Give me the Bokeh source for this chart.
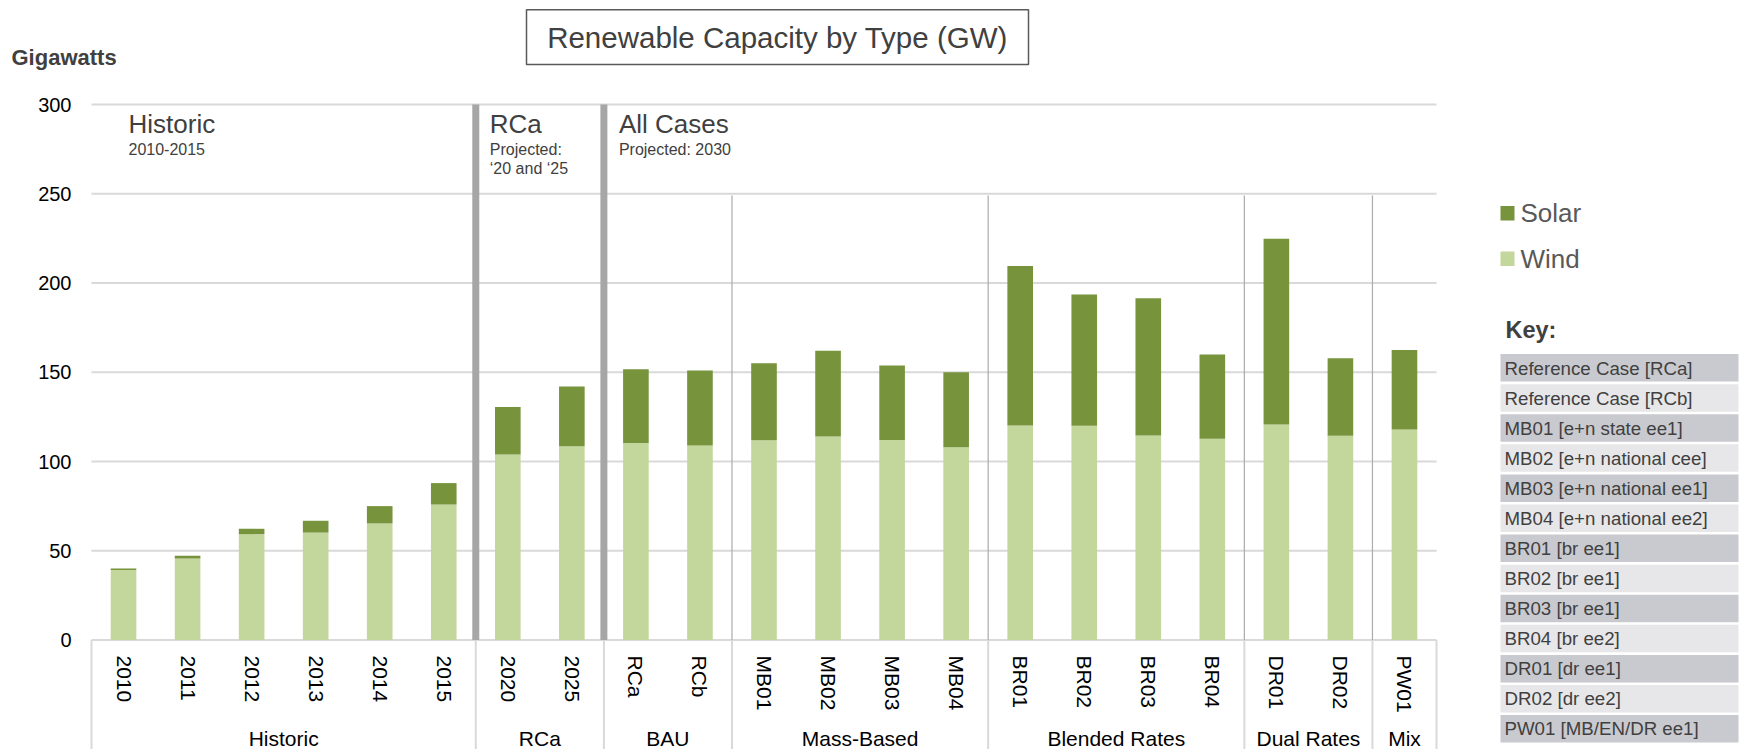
import math
from bokeh.plotting import figure
from bokeh.models import ColumnDataSource, FixedTicker, Range1d
from bokeh.layouts import row
from bokeh.core.properties import value
from bokeh.embed import file_html
from bokeh.resources import INLINE

# ---------------- data ----------------
categories = ["2010", "2011", "2012", "2013", "2014", "2015", "2020", "2025",
              "RCa", "RCb", "MB01", "MB02", "MB03", "MB04",
              "BR01", "BR02", "BR03", "BR04", "DR01", "DR02", "PW01"]
wind = [39.2, 45.7, 59.3, 60.2, 65.3, 75.9, 103.9, 108.6,
        110.3, 109.0, 111.9, 114.0, 112.1, 108.0,
        120.2, 120.0, 114.6, 112.7, 120.7, 114.4, 117.9]
solar = [0.8, 1.5, 3.0, 6.6, 9.7, 12.0, 26.7, 33.4,
         41.4, 42.0, 43.2, 48.0, 41.7, 42.0,
         89.3, 73.5, 76.8, 47.3, 104.1, 43.4, 44.6]
group_names = ["Historic", "RCa", "BAU", "Mass-Based", "Blended Rates", "Dual Rates", "Mix"]
group_sizes = [6, 2, 2, 4, 4, 2, 1]
period_titles = ["Historic", "RCa", "All Cases"]
period_subtitles = ["2010-2015", "Projected:\n\u201820 and \u201825", "Projected: 2030"]
period_groups = [1, 1, 5]          # number of groups in each period
y_ticks = [0, 50, 100, 150, 200, 250, 300]
series_names = ["Solar", "Wind"]
key_entries = ["Reference Case [RCa]", "Reference Case [RCb]", "MB01 [e+n state ee1]",
               "MB02 [e+n national cee]", "MB03 [e+n national ee1]", "MB04 [e+n national ee2]",
               "BR01 [br ee1]", "BR02 [br ee1]", "BR03 [br ee1]", "BR04 [br ee2]",
               "DR01 [dr ee1]", "DR02 [dr ee2]", "PW01 [MB/EN/DR ee1]"]
chart_title = "Renewable Capacity by Type (GW)"
y_title = "Gigawatts"

# ---------------- style ----------------
FONT = "Liberation Sans"
TXT = "#404040"
SOLAR_C = "#77933c"
WIND_C = "#c3d69b"
GRID_C = "#d9d9d9"
SEP_C = "#a6a6a6"

W_TOTAL = 1743
H = 749
W_MAIN = 1440
PX = 1.785            # pixels per GW
Y0 = 639.5            # page y of the zero line
X0 = 91.0             # page x of the plot area's left edge
CW = (1436.0 - X0) / len(categories)   # pixels per category


def yv(sy):
    return (Y0 - sy) / PX


def xv(sx):
    return (sx - X0) / CW


# group boundaries (in category units)
bounds = [0]
for s in group_sizes:
    bounds.append(bounds[-1] + s)
period_starts = []
gi = 0
for n in period_groups:
    period_starts.append(bounds[gi])
    gi += n
xpos = [i + 0.5 for i in range(len(categories))]

# ---------------- main chart ----------------
p = figure(width=W_MAIN, height=H,
           x_range=Range1d(xv(0), xv(W_MAIN)), y_range=Range1d(yv(H), yv(0)),
           output_backend="svg", toolbar_location=None, x_axis_location=None)
p.min_border = 0
p.outline_line_color = None
p.grid.visible = False

p.yaxis.fixed_location = 0
p.yaxis.ticker = FixedTicker(ticks=y_ticks)
p.yaxis.axis_line_color = None
p.yaxis.major_tick_line_color = None
p.yaxis.minor_tick_line_color = None
p.yaxis.major_tick_in = 0
p.yaxis.major_tick_out = 0
p.yaxis.major_label_standoff = 20
p.yaxis.major_label_text_font = FONT
p.yaxis.major_label_text_font_size = "20px"
p.yaxis.major_label_text_color = "#000000"

# gridlines across the category span only
n_cat = len(categories)
p.segment(x0=0, x1=n_cat, y0=y_ticks, y1=y_ticks, line_color=GRID_C, line_width=2)

src = ColumnDataSource(dict(x=xpos, cat=categories, Wind=wind, Solar=solar))
p.vbar_stack(["Wind", "Solar"], x="x", width=0.4, source=src,
             fill_color=[WIND_C, SOLAR_C], line_color=None)

# axis box lines below zero
p.segment(x0=bounds, y0=0, x1=bounds, y1=yv(H), line_color=GRID_C, line_width=2)

# thick period separators and thin group separators
thick = [b for b in period_starts if b != 0]
p.segment(x0=thick, y0=0, x1=thick, y1=300, line_color=SEP_C, line_width=7)
thin = [b for b in bounds[1:-1] if b not in period_starts]
p.segment(x0=thin, y0=0, x1=thin, y1=249, line_color="#ababab", line_width=1.2)

# category labels (rotated)
p.text(x=xpos, y=yv(655), text=categories, angle=-math.pi / 2,
       text_align="left", text_baseline="middle", text_font_size="21px",
       text_color="#000000", text_font=value(FONT))

# group labels
gx = [(bounds[i] + bounds[i + 1]) / 2 for i in range(len(group_sizes))]
p.text(x=gx, y=yv(738), text=group_names, text_align="center", text_baseline="middle",
       text_font_size="21px", text_color="#000000", text_font=value(FONT))

# period headers
offs = [37, 14, 15]
p.text(x=period_starts, y=yv(123), text=period_titles, x_offset=offs,
       text_align="left", text_baseline="middle", text_font_size="26px",
       text_color=TXT, text_font=value(FONT))
sub_x, sub_y, sub_t, sub_o = [], [], [], []
for ps, st, o in zip(period_starts, period_subtitles, offs):
    for li, line in enumerate(st.split("\n")):
        sub_x.append(ps)
        sub_y.append(yv(148.7 + 19 * li))
        sub_t.append(line)
        sub_o.append(o)
p.text(x=sub_x, y=sub_y, text=sub_t, x_offset=sub_o,
       text_align="left", text_baseline="middle", text_font_size="16px",
       text_color=TXT, text_font=value(FONT))

# chart title in a box
p.quad(left=xv(526), right=xv(1028), top=yv(9.3), bottom=yv(64),
       fill_color=None, line_color="#595959", line_width=1.5)
p.text(x=[xv(777)], y=[yv(36.7)], text=[chart_title],
       text_align="center", text_baseline="middle", text_font_size="29.5px",
       text_color=TXT, text_font=value(FONT))

# y title
p.text(x=[xv(11)], y=[yv(56.5)], text=[y_title], text_align="left", text_baseline="middle",
       text_font_size="22px", text_font_style="bold", text_color=TXT, text_font=value(FONT))

# ---------------- legend + key ----------------
k = figure(width=W_TOTAL - W_MAIN, height=H, x_range=Range1d(W_MAIN, W_TOTAL),
           y_range=Range1d(H, 0), output_backend="svg", toolbar_location=None,
           x_axis_location=None, y_axis_location=None)
k.min_border = 0
k.outline_line_color = None
k.grid.visible = False

k.quad(left=1500, right=1514, top=[205.4, 251.0], bottom=[219.9, 265.5],
       fill_color=[SOLAR_C, WIND_C], line_color=None)
k.text(x=1520, y=[212.5, 258.0], text=series_names, text_align="left",
       text_baseline="middle", text_font_size="26px", text_color="#595959",
       text_font=value(FONT))

k.text(x=[1505], y=[329], text=["Key:"], text_align="left", text_baseline="middle",
       text_font_size="23.5px", text_font_style="bold", text_color=TXT, text_font=value(FONT))

tops = [353.6 + 30.08 * i for i in range(len(key_entries))]
bots = [tp + 27.5 for tp in tops]
fills = ["#c9cacf" if i % 2 == 0 else "#e7e7e9" for i in range(len(key_entries))]
k.quad(left=1500, right=1738, top=tops, bottom=bots, fill_color=fills, line_color=None)
k.text(x=1504, y=[tp + 13.9 for tp in tops], text=key_entries, text_align="left",
       text_baseline="middle", text_font_size="18.7px", text_color=TXT, text_font=value(FONT))

layout = row(p, k)
open("out.html", "w").write(file_html(layout, INLINE))
